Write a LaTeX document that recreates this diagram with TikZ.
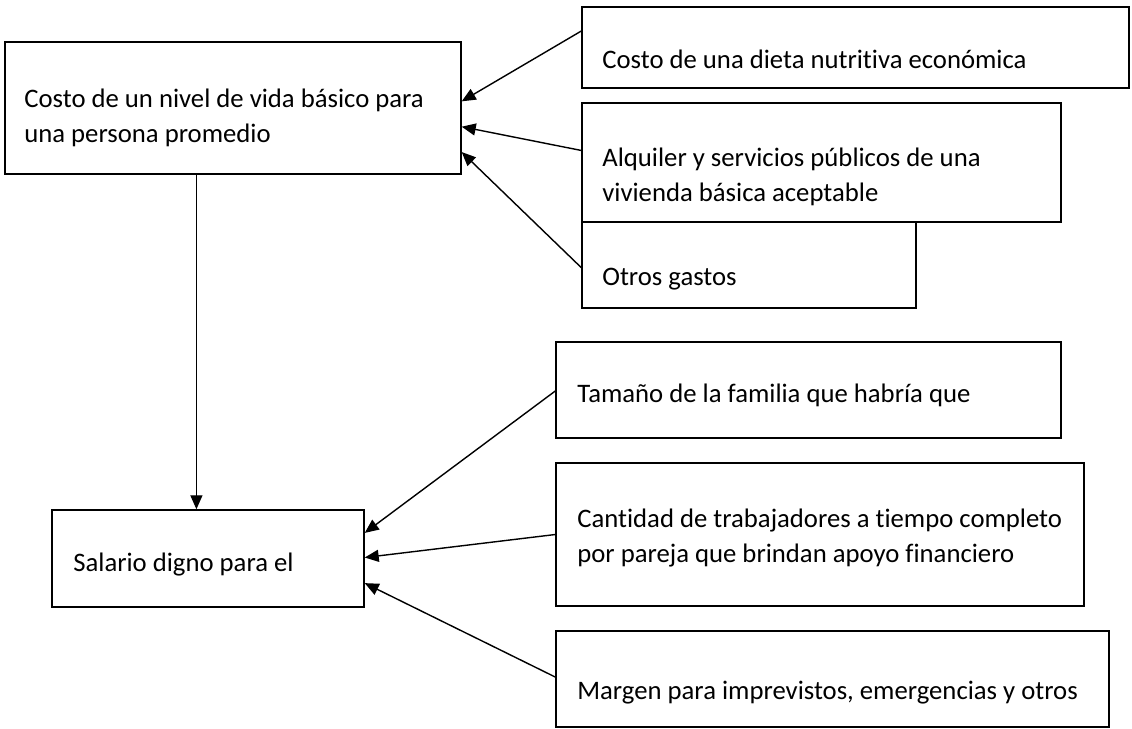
\documentclass[tikz,border=0pt]{standalone}
\usepackage{fontspec}
\setmainfont[Ligatures=NoCommon]{Carlito}
\usetikzlibrary{arrows.meta,calc}

\tikzset{
	caja/.style={draw, rectangle, line width=0.85pt, inner sep=0pt},
	texto/.style={anchor=base west, inner sep=0pt, align=left, font=\fontsize{15.2}{19.9}\selectfont},
	flecha/.style={line width=0.8pt, -{Triangle[length=0.28cm, width=0.24cm]}}
}

\begin{document}
\begin{tikzpicture}[x=0.02cm, y=-0.02cm]
			\useasboundingbox (0,0) rectangle (1132,728);

			% cajas
			\node[caja, minimum width=9.12cm, minimum height=2.64cm] (costo) at (233,108) {};
			\node[caja, minimum width=10.94cm, minimum height=1.62cm] (dieta) at (855.5,47.5) {};
			\node[caja, minimum width=9.58cm, minimum height=2.38cm] (alquiler) at (821.5,162.5) {};
			\node[caja, minimum width=6.68cm, minimum height=1.72cm] (otros) at (749,265) {};
			\node[caja, minimum width=10.1cm, minimum height=1.92cm] (familia) at (808.5,390) {};
			\node[caja, minimum width=10.56cm, minimum height=2.86cm] (cantidad) at (820,534.5) {};
			\node[caja, minimum width=6.24cm, minimum height=1.94cm] (salario) at (208,558.5) {};
			\node[caja, minimum width=11.06cm, minimum height=1.92cm] (margen) at (832.5,679) {};

			% textos (base = ultima linea)
			\node[texto] (tcosto) at (24,142) {Costo de un nivel de vida básico para\\una persona promedio};
			\node[texto] (tdieta) at (602,68) {Costo de una dieta nutritiva económica};
			\node[texto] (talquiler) at (602,201) {Alquiler y servicios públicos de una\\vivienda básica aceptable};
			\node[texto] (totros) at (602,285) {Otros gastos};
			\node[texto] (tfamilia) at (577,402) {Tamaño de la familia que habría que};
			\node[texto] (tcantidad) at (577,562) {Cantidad de trabajadores a tiempo completo\\por pareja que brindan apoyo financiero};
			\node[texto] (tsalario) at (73,571) {Salario digno para el};
			\node[texto] (tmargen) at (577,699) {Margen para imprevistos, emergencias y otros};

			\coordinate (baja) at ($(costo.south west)!0.42!(costo.south east)$);

			\path[flecha]
				($(dieta.north west)!0.30!(dieta.south west)$) edge ($(costo.north east)!0.45!(costo.south east)$)
				($(alquiler.north west)!0.40!(alquiler.south west)$) edge ($(costo.north east)!0.64!(costo.south east)$)
				($(otros.north west)!0.53!(otros.south west)$) edge ($(costo.north east)!0.83!(costo.south east)$)

				(baja) edge (baja |- salario.north)

				($(familia.north west)!0.51!(familia.south west)$) edge ($(salario.north east)!0.24!(salario.south east)$)
				($(cantidad.north west)!0.50!(cantidad.south west)$) edge ($(salario.north east)!0.49!(salario.south east)$)
				($(margen.north west)!0.48!(margen.south west)$) edge ($(salario.north east)!0.75!(salario.south east)$)
			;
\end{tikzpicture}
\end{document}
